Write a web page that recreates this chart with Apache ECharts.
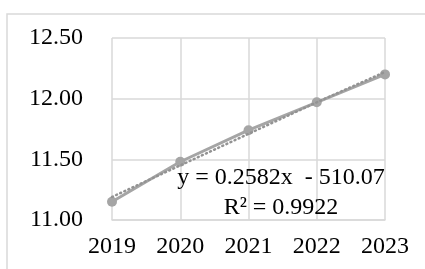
<!DOCTYPE html>
<html>
<head>
<meta charset="utf-8">
<script src="https://cdn.jsdelivr.net/npm/echarts@6/dist/echarts.min.js"></script>
<style>
  html, body { margin: 0; padding: 0; background: #fff; }
  #main { width: 425px; height: 269px; }
</style>
</head>
<body>
<div id="main"></div>
<script>
var years = ['2019', '2020', '2021', '2022', '2023'];
var values = [11.15, 11.48, 11.74, 11.97, 12.20];
var trend = [11.19, 11.45, 11.71, 11.97, 12.22];
var equationText = 'y = 0.2582x  - 510.07';
var r2Text = 'R\u00b2 = 0.9922';

var chart = echarts.init(document.getElementById('main'));
var font = '"Liberation Serif", "Times New Roman", serif';

var option = {
    animation: false,
    grid: { left: 112, right: 40, top: 38, bottom: 49 },
    xAxis: {
        type: 'category',
        data: years,
        boundaryGap: false,
        axisLine: { lineStyle: { color: '#d9d9d9', width: 1.5 } },
        axisTick: { show: false },
        axisLabel: { color: '#000', fontFamily: font, fontSize: 24, margin: 15 },
        splitLine: { show: true, lineStyle: { color: '#d9d9d9', width: 1.5 } }
    },
    yAxis: {
        type: 'value',
        min: 11,
        max: 12.5,
        interval: 0.5,
        axisLine: { show: false },
        axisTick: { show: false },
        axisLabel: {
            color: '#000', fontFamily: font, fontSize: 24, margin: 29,
            formatter: function (v) { return v.toFixed(2); }
        },
        splitLine: { lineStyle: { color: '#d9d9d9', width: 1.5 } }
    },
    series: [
        {
            type: 'line',
            data: values,
            symbol: 'circle',
            symbolSize: 10,
            itemStyle: { color: '#a5a5a5' },
            lineStyle: { color: '#a5a5a5', width: 3 },
            z: 3
        },
        {
            type: 'line',
            data: trend,
            symbol: 'none',
            lineStyle: { color: '#939393', width: 2.5, type: [1, 3.5], cap: 'round' },
            z: 4
        }
    ],
    graphic: [
        {
            type: 'rect',
            shape: { x: 7, y: 14, width: 430, height: 270 },
            style: { fill: 'none', stroke: '#d9d9d9', lineWidth: 1.5 },
            silent: true
        },
        {
            type: 'text',
            x: 281, y: 190,
            style: { text: equationText, fill: '#000', font: '24px ' + font, textAlign: 'center', textVerticalAlign: 'bottom' },
            z: 10
        },
        {
            type: 'text',
            x: 281, y: 220,
            style: { text: r2Text, fill: '#000', font: '24px ' + font, textAlign: 'center', textVerticalAlign: 'bottom' },
            z: 10
        }
    ]
};
chart.setOption(option);
</script>
</body>
</html>
